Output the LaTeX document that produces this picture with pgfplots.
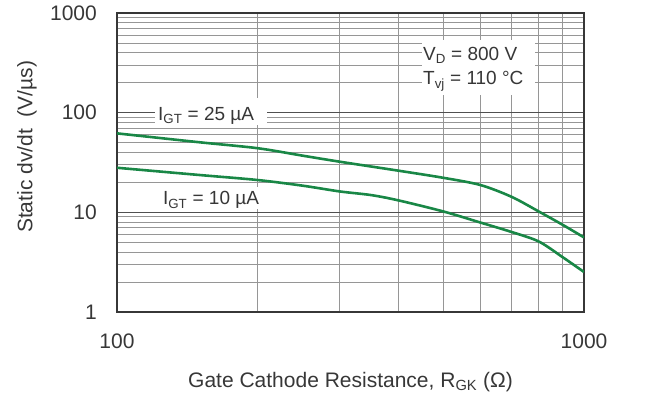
\documentclass[border=0pt]{standalone}
\usepackage{fontspec}
\setmainfont{Liberation Sans}
\usepackage{pgfplots}
\pgfplotsset{compat=1.18}
\definecolor{txt}{RGB}{55,55,55}
\definecolor{curve}{RGB}{25,135,70}
\definecolor{majg}{RGB}{80,80,80}
\definecolor{ming}{RGB}{150,150,150}
\begin{document}
\begin{tikzpicture}
\path[use as bounding box] (-117pt,-82pt) rectangle (539pt,312pt);
\begin{axis}[
  at={(0pt,0pt)}, anchor=south west,
  scale only axis, width=467pt, height=299pt,
  xmode=log, ymode=log,
  xmin=100, xmax=1000, ymin=1, ymax=1000,
  xtick={100,1000}, xticklabels={100,1000},
  ytick={1,10,100,1000}, yticklabels={1,10,100,1000},
  minor xtick={200,300,400,500,600,700,800,900},
  minor ytick={2,3,4,5,6,7,8,9,20,30,40,50,60,70,80,90,200,300,400,500,600,700,800,900},
  grid=both,
  major grid style={majg, line width=1.1pt},
  minor grid style={ming, line width=0.8pt},
  major tick length=0pt, minor tick length=0pt,
  axis line style={txt, line width=1.3pt},
  /pgf/number format/assume math mode=true,
  tick label style={font=\fontsize{21}{25}\selectfont, text=txt, inner sep=0pt},
  xticklabel style={anchor=base, yshift=-36pt},
  yticklabel style={anchor=east, xshift=-20pt},
  xlabel={Gate Cathode Resistance, R\textsubscript{GK} (Ω)},
  xlabel style={at={(axis description cs:0.5,-0.251)}, anchor=base, font=\fontsize{21}{25}\selectfont, text=txt, inner sep=0pt},
  ylabel={Static dv/dt\ \ (V/µs)},
  ylabel style={at={(axis description cs:-0.193,0.552)}, anchor=center, font=\fontsize{21}{25}\selectfont, text=txt, inner sep=0pt},
]
\fill[white] (axis cs:120.6,75.2) rectangle (axis cs:209.5,140);
\fill[white] (axis cs:123,10.7) rectangle (axis cs:204,18);
\fill[white] (axis cs:450,150) rectangle (axis cs:785,535);
\node[anchor=base west, inner sep=0pt, text=txt, font=\fontsize{19}{22}\selectfont] at (axis cs:122.4,84.4) {I\textsubscript{GT} = 25 µA};
\node[anchor=base west, inner sep=0pt, text=txt, font=\fontsize{19}{22}\selectfont] at (axis cs:125.4,11.85) {I\textsubscript{GT} = 10 µA};
\node[anchor=base west, inner sep=0pt, text=txt, font=\fontsize{19}{22}\selectfont] at (axis cs:452,337) {V\textsubscript{D} = 800 V};
\node[anchor=base west, inner sep=0pt, text=txt, font=\fontsize{19}{22}\selectfont] at (axis cs:452,190) {T\textsubscript{vj} = 110 °C};
\addplot[curve, line width=2.6pt, smooth, tension=0.5] coordinates {
 (100,62) (150,50.5) (200,44) (250,37) (300,32.2) (400,26.2) (500,22.2)
 (600,18.8) (700,14.3) (800,10.2) (900,7.5) (1000,5.6)};
\addplot[curve, line width=2.6pt, smooth, tension=0.5] coordinates {
 (100,28) (150,23.7) (200,21.1) (250,18.5) (300,16.2) (350,14.9) (400,13.2)
 (500,10.2) (600,7.9) (700,6.35) (800,5.1) (900,3.55) (1000,2.52)};
\end{axis}
\end{tikzpicture}
\end{document}
